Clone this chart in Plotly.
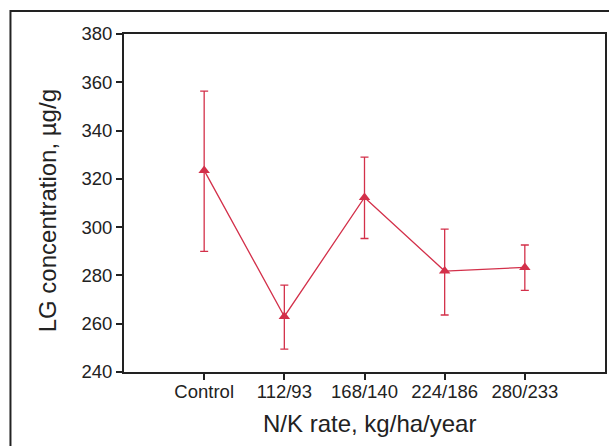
import plotly.graph_objects as go

categories = ["Control", "112/93", "168/140", "224/186", "280/233"]
lg_mean = [323.5, 263.0, 312.3, 281.8, 283.3]
err_upper = [356.3, 276.0, 329.0, 299.2, 292.6]
err_lower = [290.0, 249.5, 295.3, 263.6, 273.8]

color = "#d3304a"
axis_color = "#222222"
font_family = "Liberation Sans, Arial, sans-serif"

xs = list(range(len(categories)))
fig = go.Figure()
fig.add_trace(go.Scatter(
    x=xs, y=lg_mean, mode="lines+markers",
    line=dict(color=color, width=1.3),
    marker=dict(symbol="triangle-up", size=10, color=color),
    error_y=dict(type="data", symmetric=False,
                 array=[u - m for u, m in zip(err_upper, lg_mean)],
                 arrayminus=[m - l for m, l in zip(lg_mean, err_lower)],
                 color=color, thickness=1.3, width=4),
    showlegend=False,
))

fig.update_layout(
    width=609, height=446,
    margin=dict(l=124, r=2, t=34, b=74),
    paper_bgcolor="white", plot_bgcolor="white",
    font=dict(family=font_family, color="#222222", size=18.5),
    xaxis=dict(range=[-1, 5], tickmode="array", tickvals=xs, ticktext=categories,
               showgrid=False, zeroline=False, showline=True, mirror=True,
               linecolor=axis_color, linewidth=2, ticks="outside", ticklen=6,
               tickcolor=axis_color, tickwidth=1.5, tickfont=dict(size=18.5),
               ticklabelstandoff=-4),
    yaxis=dict(range=[240, 380], tickvals=[240, 260, 280, 300, 320, 340, 360, 380],
               showgrid=False, zeroline=False, showline=True, mirror=True,
               linecolor=axis_color, linewidth=2, ticks="outside", ticklen=6,
               tickcolor=axis_color, tickwidth=1.5, tickfont=dict(size=18.5)),
    annotations=[
        dict(text="N/K rate, kg/ha/year", xref="paper", yref="paper",
             x=(371 - 124) / 483, y=-(423 - 372) / 338, showarrow=False,
             xanchor="center", yanchor="middle", font=dict(size=24)),
        dict(text="LG concentration, µg/g", xref="paper", yref="paper",
             x=-(124 - 47) / 483, y=(372 - 211) / 338, showarrow=False,
             xanchor="center", yanchor="middle", textangle=-90, font=dict(size=24)),
    ],
    shapes=[
        dict(type="rect", xref="paper", yref="paper",
             x0=-(124 - 10) / 483, x1=1.2, y0=-0.5, y1=1 + (34 - 11) / 338,
             line=dict(color=axis_color, width=2)),
    ],
)

fig.write_html("out.html")
